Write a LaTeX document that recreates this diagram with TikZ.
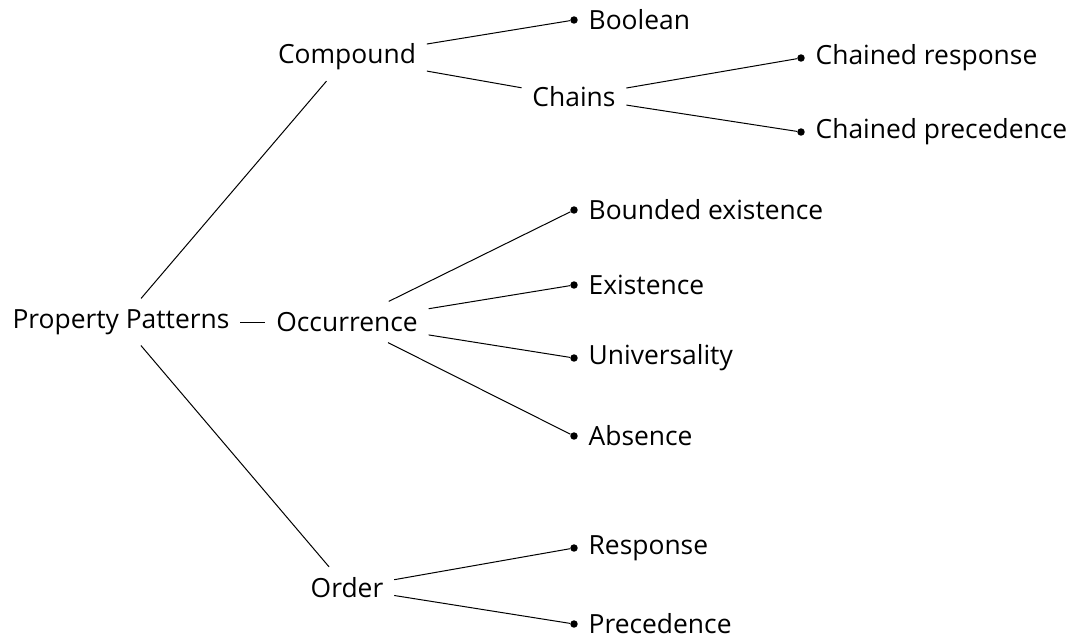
\documentclass[tikz,border=0pt]{standalone}
\usepackage{fontspec}
\setmainfont{Open Sans}
\usetikzlibrary{positioning}

\tikzset{
  topic/.style={inner sep=8pt, font=\fontsize{19.8}{24}\selectfont},
  leafdot/.style={circle, fill=black, inner sep=0pt, minimum size=5.6pt},
  leaflabel/.style={inner sep=0pt, label distance=7.8pt, font=\fontsize{19.8}{24}\selectfont},
  branch/.style={draw=black, line width=0.75pt}
}

\begin{document}
\begin{tikzpicture}[x=0.75pt,y=-0.75pt]
  \useasboundingbox (0,0) rectangle (1071,637);

  % ---- inner topics ----------------------------------------
  \node[topic] (props) at (121,322) {Property Patterns};
  \node[topic] (compound) at (347,57) {Compound};
  \node[topic] (occur) at (347,322) {Occurrence};
  \node[topic] (order) at (347,588) {Order};
  \node[topic] (chains) at (574,97) {Chains};

  % ---- leaves (dot + label) --------------------------------
  \node[leafdot, label={[leaflabel]right:Boolean}] (boolean) at (574,20) {};
  \node[leafdot, label={[leaflabel]right:Chained response}] (chresp) at (801,58) {};
  \node[leafdot, label={[leaflabel]right:Chained precedence}] (chprec) at (801,132) {};
  \node[leafdot, label={[leaflabel]right:Bounded existence}] (bexist) at (574,210) {};
  \node[leafdot, label={[leaflabel]right:Existence}] (exist) at (574,285) {};
  \node[leafdot, label={[leaflabel]right:Universality}] (univ) at (574,358) {};
  \node[leafdot, label={[leaflabel]right:Absence}] (absence) at (574,436) {};
  \node[leafdot, label={[leaflabel]right:Response}] (resp) at (574,548) {};
  \node[leafdot, label={[leaflabel]right:Precedence}] (prec) at (574,624) {};

  % ---- branches --------------------------------------------
  \draw[branch] (props) -- (compound);
  \draw[branch] (props) -- (occur);
  \draw[branch] (props) -- (order);

  \draw[branch] (compound) -- (boolean);
  \draw[branch] (compound) -- (chains);
  \draw[branch] (chains) -- (chresp);
  \draw[branch] (chains) -- (chprec);

  \draw[branch] (occur) -- (bexist);
  \draw[branch] (occur) -- (exist);
  \draw[branch] (occur) -- (univ);
  \draw[branch] (occur) -- (absence);

  \draw[branch] (order) -- (resp);
  \draw[branch] (order) -- (prec);

\end{tikzpicture}
\end{document}
